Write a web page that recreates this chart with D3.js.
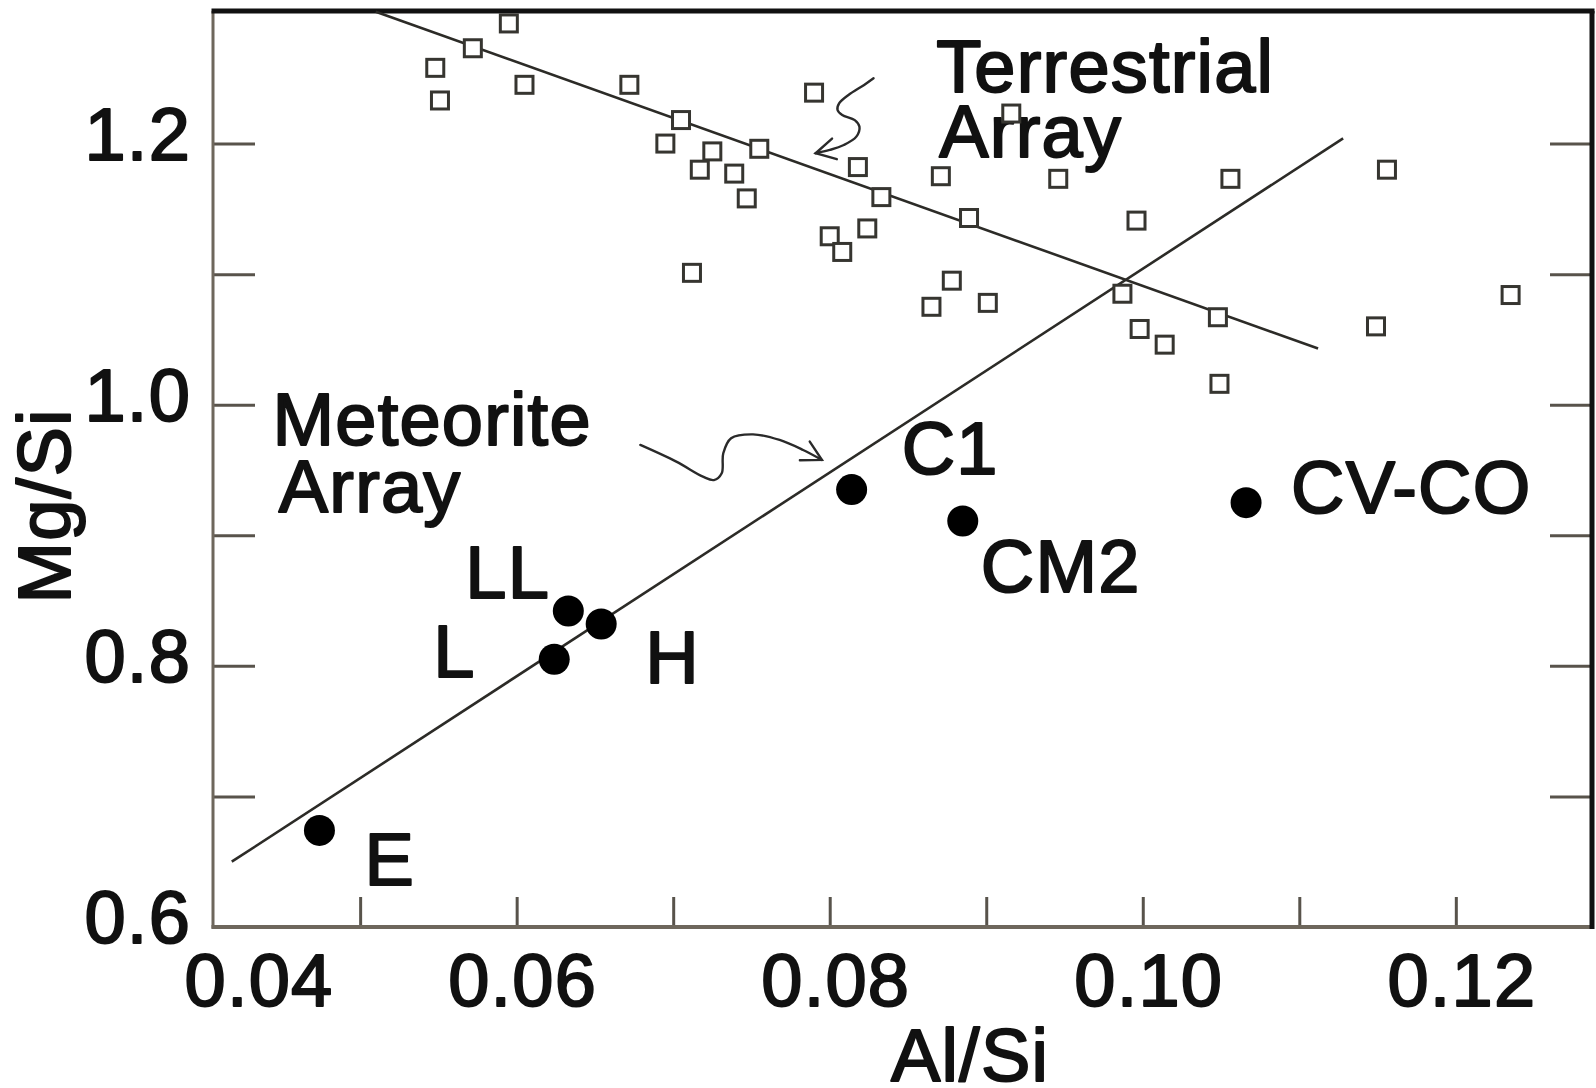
<!DOCTYPE html>
<html>
<head>
<meta charset="utf-8">
<title>Mg/Si vs Al/Si</title>
<script src="https://cdn.jsdelivr.net/npm/d3@7/dist/d3.min.js"></script>
<style>
    html, body { margin: 0; padding: 0; background: #fff; }
    #chart { width: 1596px; height: 1088px; }
    text { font-family: "Liberation Sans", Arial, Helvetica, sans-serif; }
</style>
</head>
<body>
<div id="chart"></div>
<script>
/*
Mg/Si against Al/Si: terrestrial rocks (open squares) and meteorite
classes (filled dots), each with its hand-drawn trend line.
*/

// terrestrial samples
const terrestrialAlSi = [0.0595, 0.0572, 0.0548, 0.0551, 0.0605, 0.0672, 0.0705, 0.0695, 0.0725,
    0.0755, 0.0717, 0.0739, 0.0747, 0.0790, 0.0818, 0.0833, 0.0871, 0.0916, 0.0946, 0.0889,
    0.0996, 0.0824, 0.0800, 0.0808, 0.0712, 0.0878, 0.0865, 0.0901, 0.0987, 0.0998, 0.1014,
    0.1056, 0.1156, 0.1048, 0.1049, 0.1149, 0.1235];
const terrestrialMgSi = [1.292, 1.273, 1.258, 1.233, 1.245, 1.245, 1.218, 1.200, 1.194,
    1.196, 1.180, 1.177, 1.158, 1.239, 1.182, 1.159, 1.175, 1.223, 1.173, 1.143,
    1.141, 1.135, 1.129, 1.117, 1.101, 1.095, 1.075, 1.078, 1.085, 1.058, 1.046,
    1.173, 1.180, 1.067, 1.016, 1.060, 1.084];

// meteorite classes
const meteoriteNames = ["E", "L", "LL", "H", "C1", "CM2", "CV-CO"];
const meteoriteAlSi = [0.0474, 0.0624, 0.0633, 0.0654, 0.0814, 0.0885, 0.1066];
const meteoriteMgSi = [0.674, 0.805, 0.842, 0.832, 0.935, 0.911, 0.925];

// trend lines (end points)
const meteoriteLineAlSi = [0.0418, 0.1128];
const meteoriteLineMgSi = [0.650, 1.204];
const terrestrialLineAlSi = [0.0510, 0.1112];
const terrestrialLineMgSi = [1.301, 1.043];

// axis ticks
const xTicks = [0.05, 0.06, 0.07, 0.08, 0.09, 0.10, 0.11, 0.12];
const xTickLabels = ["0.04", "0.06", "0.08", "0.10", "0.12"];
const yTicks = [0.7, 0.8, 0.9, 1.0, 1.1, 1.2];
const yTickLabels = ["0.6", "0.8", "1.0", "1.2"];

// wavy annotation arrows, in data units
const terrestrialArrowAlSi = [0.0828, 0.0822, 0.0812, 0.0806, 0.0805, 0.0808, 0.0816, 0.0819, 0.0817, 0.0809, 0.0800, 0.0791];
const terrestrialArrowMgSi = [1.2500, 1.2449, 1.2372, 1.2308, 1.2257, 1.2219, 1.2180, 1.2129, 1.2053, 1.1989, 1.1951, 1.1926];
const meteoriteArrowAlSi = [0.0679, 0.0702, 0.0719, 0.0726, 0.0731, 0.0732, 0.0737, 0.0751, 0.0768, 0.0783, 0.0795];
const meteoriteArrowMgSi = [0.9692, 0.9564, 0.9449, 0.9423, 0.9475, 0.9628, 0.9743, 0.9773, 0.9730, 0.9653, 0.9577];

class MgSiScatterVis {

    constructor(parentElement) {
        this.parentElement = parentElement;
        this.initVis();
    }

    initVis() {
        let vis = this;

        vis.width = 1596;
        vis.height = 1088;
        vis.frame = { left: 213, right: 1592, top: 13, bottom: 927 };
        vis.fontSize = 74;

        vis.svg = d3.select("#" + vis.parentElement).append("svg")
            .attr("width", vis.width)
            .attr("height", vis.height);

        vis.x = d3.scaleLinear().domain([0.0406, 0.1287]).range([vis.frame.left, vis.frame.right]);
        vis.y = d3.scaleLinear().domain([0.6, 1.3]).range([vis.frame.bottom, vis.frame.top]);

        vis.drawAxes();
        vis.drawLines();
        vis.drawAnnotations();
        vis.drawPoints();
    }

    textStyle(sel) {
        let vis = this;
        return sel.attr("font-size", vis.fontSize)
            .attr("letter-spacing", 1.2)
            .attr("fill", "#111")
            .attr("stroke", "#111")
            .attr("stroke-width", 2)
            .attr("stroke-linejoin", "round");
    }

    drawAxes() {
        let vis = this;
        let f = vis.frame;

        // left & bottom axes (gray), top & right borders (black, heavier)
        let yAxis = d3.axisLeft(vis.y).tickValues(yTicks).tickSize(-42).tickFormat("");
        let yAxisRight = d3.axisRight(vis.y).tickValues(yTicks).tickSize(-42).tickFormat("");
        let xAxis = d3.axisBottom(vis.x).tickValues(xTicks).tickSize(-30).tickFormat("");

        vis.svg.append("g").attr("transform", `translate(${f.left},0)`).call(yAxis);
        vis.svg.append("g").attr("transform", `translate(${f.right},0)`).call(yAxisRight);
        vis.svg.append("g").attr("transform", `translate(0,${f.bottom})`).call(xAxis);

        vis.svg.selectAll(".tick line").attr("stroke", "#58534b").attr("stroke-width", 3);
        vis.svg.selectAll(".domain").remove();

        vis.svg.append("line")
            .attr("x1", f.left).attr("x2", f.left)
            .attr("y1", f.top - 2).attr("y2", f.bottom + 1.5)
            .attr("stroke", "#6e675c").attr("stroke-width", 3);
        vis.svg.append("line")
            .attr("x1", f.left - 1.5).attr("x2", f.right)
            .attr("y1", f.bottom).attr("y2", f.bottom)
            .attr("stroke", "#6e675c").attr("stroke-width", 4);
        vis.svg.append("line")
            .attr("x1", f.left - 1.5).attr("x2", f.right + 2.5)
            .attr("y1", f.top - 2).attr("y2", f.top - 2)
            .attr("stroke", "#111").attr("stroke-width", 5);
        vis.svg.append("line")
            .attr("x1", f.right).attr("x2", f.right)
            .attr("y1", f.top - 2).attr("y2", f.bottom + 2)
            .attr("stroke", "#111").attr("stroke-width", 5);

        // tick labels
        vis.svg.append("g").selectAll("text")
            .data(yTickLabels)
            .join("text")
            .attr("x", f.left - 22)
            .attr("y", d => vis.y(+d) + 16)
            .attr("text-anchor", "end")
            .text(d => d)
            .call(s => vis.textStyle(s));

        vis.svg.append("g").selectAll("text")
            .data(xTickLabels)
            .join("text")
            .attr("x", d => Math.max(vis.x(+d) + 6, f.left + 46))
            .attr("y", 1006)
            .attr("text-anchor", "middle")
            .text(d => d)
            .call(s => vis.textStyle(s));

        // axis titles
        vis.svg.append("text")
            .attr("x", 970)
            .attr("y", 1081)
            .attr("text-anchor", "middle")
            .text("Al/Si")
            .call(s => vis.textStyle(s));

        vis.svg.append("text")
            .attr("transform", "translate(70,506) rotate(-90)")
            .attr("text-anchor", "middle")
            .text("Mg/Si")
            .call(s => vis.textStyle(s));
    }

    drawLines() {
        let vis = this;

        let fits = [
            { xs: meteoriteLineAlSi, ys: meteoriteLineMgSi },
            { xs: terrestrialLineAlSi, ys: terrestrialLineMgSi }
        ];

        vis.svg.append("g").selectAll("line")
            .data(fits)
            .join("line")
            .attr("x1", d => vis.x(d.xs[0]))
            .attr("y1", d => vis.y(d.ys[0]))
            .attr("x2", d => vis.x(d.xs[1]))
            .attr("y2", d => vis.y(d.ys[1]))
            .attr("stroke", "#2c2b27")
            .attr("stroke-width", 2.6);
    }

    drawAnnotations() {
        let vis = this;

        let labels = [
            { text: "Terrestrial", a: 0.0868, m: 1.2397 },
            { text: "Array", a: 0.0870, m: 1.1897 },
            { text: "Meteorite", a: 0.0444, m: 0.9692 },
            { text: "Array", a: 0.0448, m: 0.9181 }
        ];

        vis.svg.append("g").selectAll("text")
            .data(labels)
            .join("text")
            .attr("x", d => vis.x(d.a))
            .attr("y", d => vis.y(d.m))
            .text(d => d.text)
            .call(s => vis.textStyle(s));

        let arrows = [
            d3.zip(terrestrialArrowAlSi, terrestrialArrowMgSi),
            d3.zip(meteoriteArrowAlSi, meteoriteArrowMgSi)
        ];

        let line = d3.line()
            .x(d => vis.x(d[0]))
            .y(d => vis.y(d[1]))
            .curve(d3.curveCatmullRom);

        let g = vis.svg.append("g")
            .attr("fill", "none")
            .attr("stroke", "#2a2a2a")
            .attr("stroke-width", 2.4)
            .attr("stroke-linecap", "round");

        arrows.forEach(pts => {
            g.append("path").attr("d", line(pts));

            // open arrow head, oriented along the last segment
            let n = pts.length;
            let tx = vis.x(pts[n - 1][0]), ty = vis.y(pts[n - 1][1]);
            let px = vis.x(pts[n - 2][0]), py = vis.y(pts[n - 2][1]);
            let ang = Math.atan2(py - ty, px - tx);
            let head = [-0.5, 0.5].map(da => [tx + 22 * Math.cos(ang + da), ty + 22 * Math.sin(ang + da)]);
            g.append("path").attr("d", `M${head[0]}L${tx},${ty}L${head[1]}`);
        });
    }

    drawPoints() {
        let vis = this;
        let s = 17;

        vis.svg.append("g").selectAll("rect")
            .data(d3.zip(terrestrialAlSi, terrestrialMgSi))
            .join("rect")
            .attr("x", d => vis.x(d[0]) - s / 2)
            .attr("y", d => vis.y(d[1]) - s / 2)
            .attr("width", s)
            .attr("height", s)
            .attr("fill", "#fff")
            .attr("stroke", "#363530")
            .attr("stroke-width", 3);

        let meteorites = meteoriteNames.map((name, i) => ({ name: name, a: meteoriteAlSi[i], m: meteoriteMgSi[i] }));

        // label offsets from each dot, in pixels
        let offsets = {
            "E": [45, 55], "L": [-121, 18], "LL": [-103, -13], "H": [44, 59],
            "C1": [50, -16], "CM2": [18, 71], "CV-CO": [45, 10]
        };

        vis.svg.append("g").selectAll("circle")
            .data(meteorites)
            .join("circle")
            .attr("cx", d => vis.x(d.a))
            .attr("cy", d => vis.y(d.m))
            .attr("r", 15.5)
            .attr("fill", "#000");

        vis.svg.append("g").selectAll("text")
            .data(meteorites)
            .join("text")
            .attr("x", d => vis.x(d.a) + offsets[d.name][0])
            .attr("y", d => vis.y(d.m) + offsets[d.name][1])
            .text(d => d.name)
            .call(s => vis.textStyle(s));
    }
}

new MgSiScatterVis("chart");
</script>
</body>
</html>
